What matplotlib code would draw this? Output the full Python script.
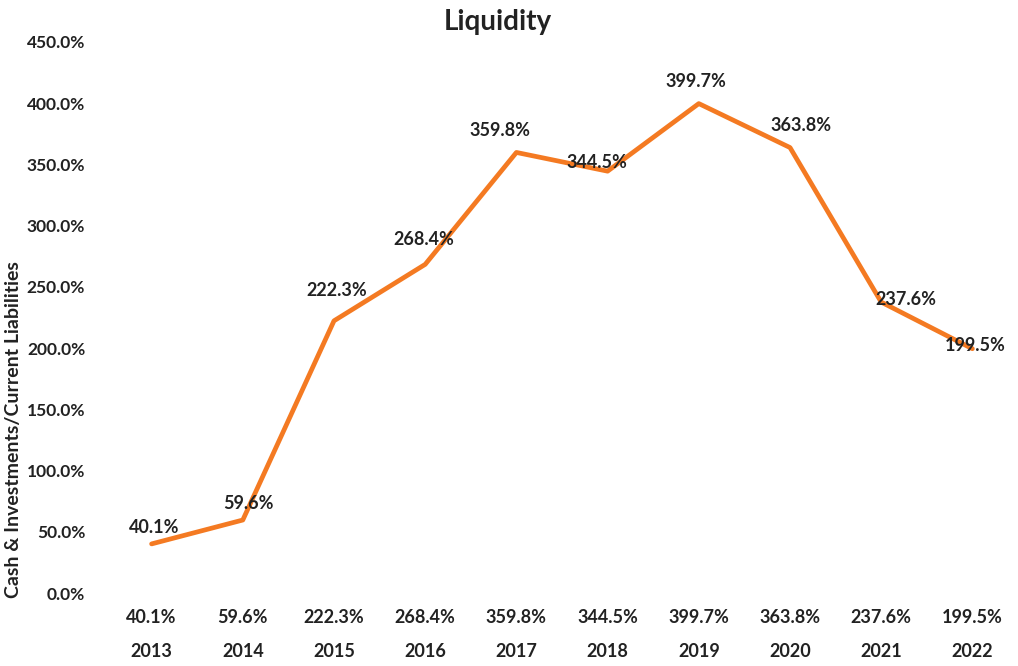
import matplotlib.pyplot as plt
import matplotlib.transforms as mtransforms
import numpy as np

plt.rcParams['font.family'] = ['Lato', 'DejaVu Sans']
plt.rcParams['font.weight'] = 'bold'

years = ['2013', '2014', '2015', '2016', '2017', '2018', '2019', '2020', '2021', '2022']
liquidity = [40.1, 59.6, 222.3, 268.4, 359.8, 344.5, 399.7, 363.8, 237.6, 199.5]
yticks = [0, 50, 100, 150, 200, 250, 300, 350, 400, 450]

# label offsets in points (dx, dy)
offsets = [(2, 6), (4, 6), (2, 16), (-1, 12), (-12, 10), (-8, 0), (-2, 10), (8, 10), (18, -4), (2, -4)]

fig = plt.figure(figsize=(10.18, 6.66), dpi=100)
ax = fig.add_axes([106 / 1018, 1 - 593 / 666, 1 - 106 / 1018, (593 - 42) / 666])

x = np.arange(len(years))
ax.plot(x, liquidity, color='#F47A22', linewidth=3.4, solid_capstyle='round')

fs = 13
for xi, v, (dx, dy) in zip(x, liquidity, offsets):
    ax.annotate(f'{v:.1f}%', (xi, v), xytext=(dx, dy), textcoords='offset points',
                ha='center', va='bottom', fontsize=fs, fontweight='bold', color='#222222')

ax.set_xlim(-0.5, len(years) - 0.5)
ax.set_ylim(0, 450)
ax.set_yticks(yticks)
ax.set_yticklabels([f'{t:.1f}%' for t in yticks], fontsize=12.5, fontweight='bold', color='#222222')
ax.set_xticks([])
ax.tick_params(axis='y', length=0, pad=15)
for s in ax.spines.values():
    s.set_visible(False)

# data-table style rows under the plot
trans = mtransforms.blended_transform_factory(ax.transData, ax.transAxes)
for xi, v, yr in zip(x, liquidity, years):
    ax.text(xi, -0.044, f'{v:.1f}%', transform=trans, ha='center', va='center',
            fontsize=fs, fontweight='bold', color='#222222')
    ax.text(xi, -0.107, yr, transform=trans, ha='center', va='center',
            fontsize=fs, fontweight='bold', color='#222222')

fig.text(498 / 1018, 1 - 22 / 666, 'Liquidity', ha='center', va='center',
         fontsize=20, fontweight='bold', color='#222222')
fig.text(14 / 1018, 1 - 430 / 666, 'Cash & Investments/Current Liabilities', rotation=90,
         ha='center', va='center', fontsize=14, fontweight='bold', color='#222222')

fig.savefig('out.png', dpi=100)
